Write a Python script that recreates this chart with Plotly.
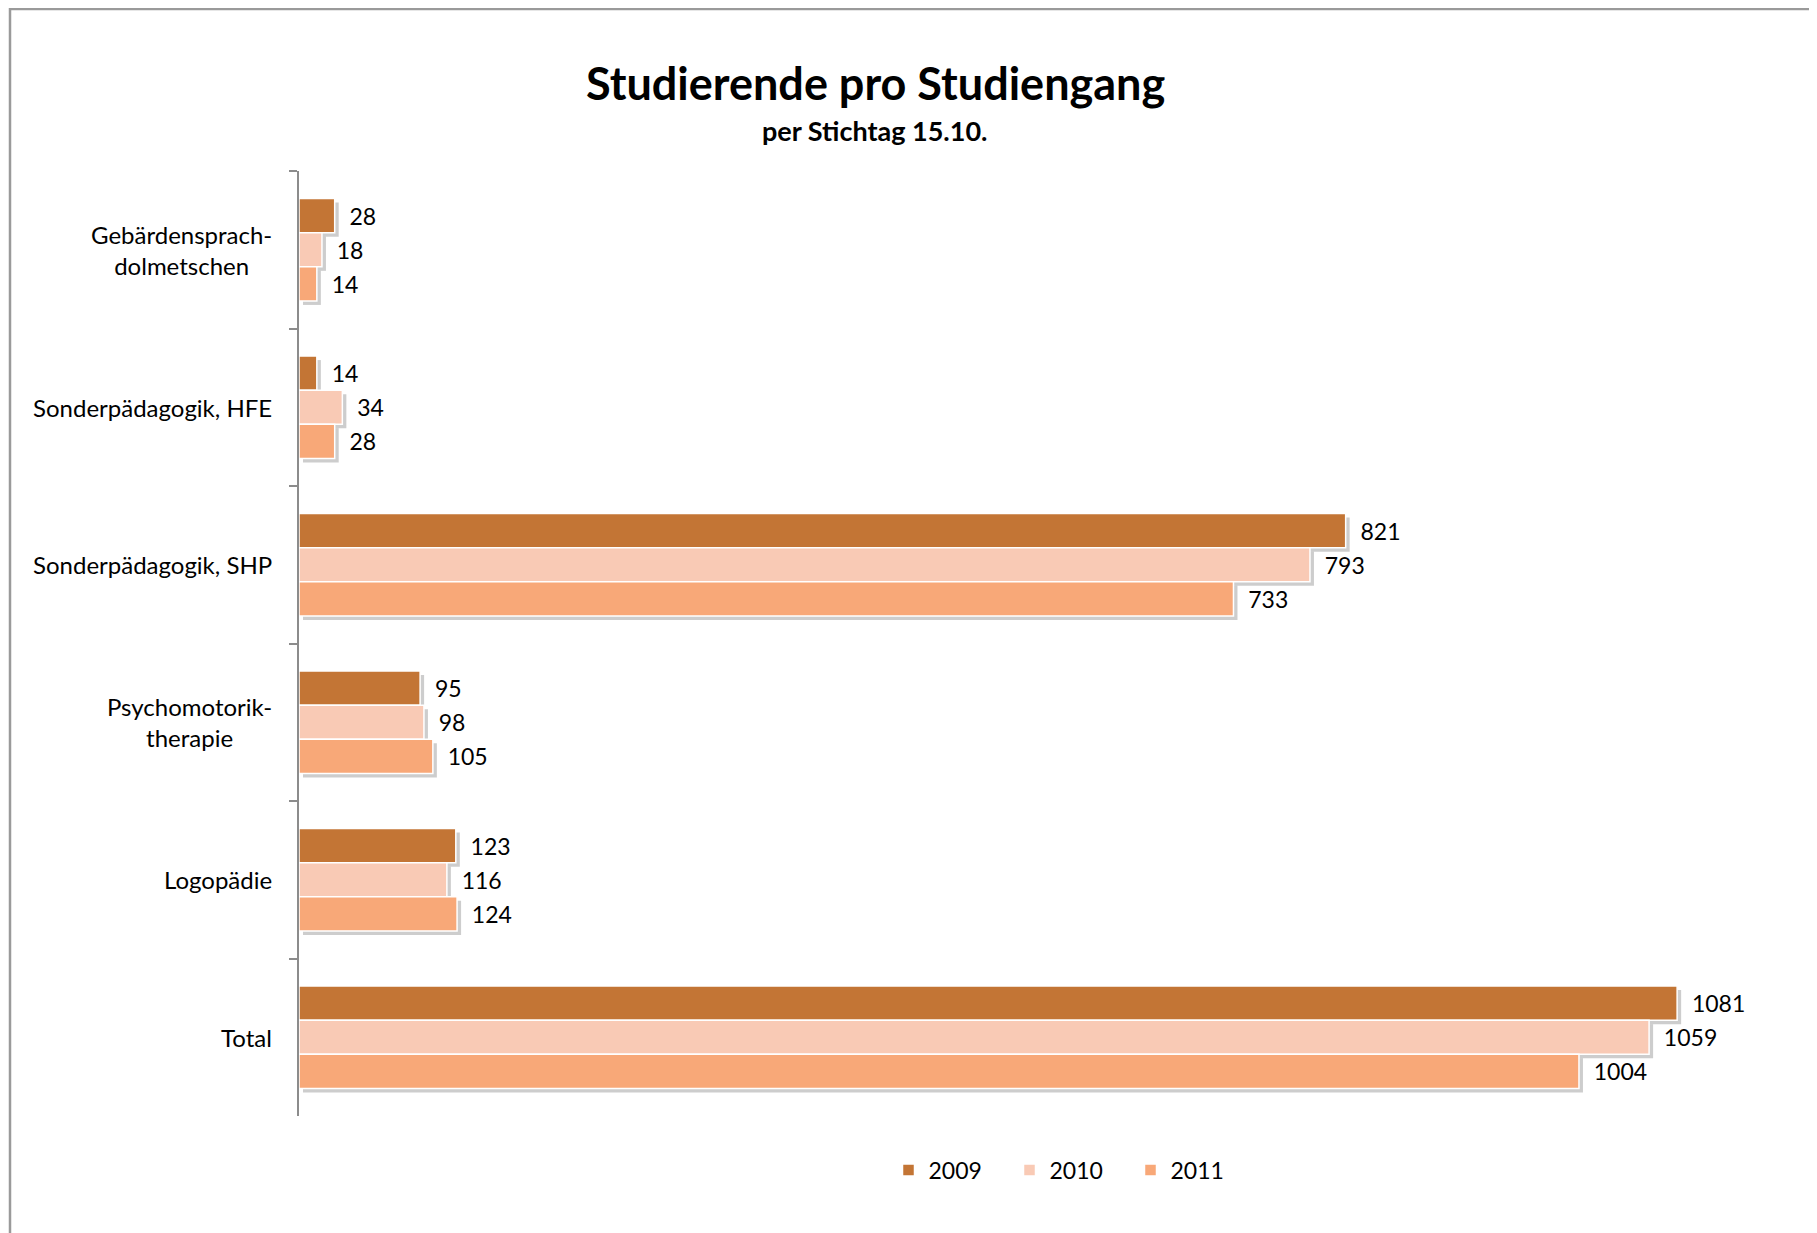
import plotly.graph_objects as go

categories = ["Gebärdensprach-<br>dolmetschen", "Sonderpädagogik, HFE", "Sonderpädagogik, SHP",
              "Psychomotorik-<br>therapie", "Logopädie", "Total"]
years = ["2009", "2010", "2011"]
values_2009 = [28, 14, 821, 95, 123, 1081]
values_2010 = [18, 34, 793, 98, 116, 1059]
values_2011 = [14, 28, 733, 105, 124, 1004]
series = [values_2009, values_2010, values_2011]
colors = ["#C37535", "#F9CAB5", "#F8A878"]

FONT = "Lato"
OFF = 8  # default page body margin
W_FIG, H_FIG = 1817 - OFF, 1233 - OFF
L, T = 299 - OFF, 171 - OFF
SH = 4  # shadow offset px
PW, PH = 1465, 949  # plot area incl. shadow offset
XMAX = 1146

def px_x(p):
    return (p - OFF - L) / PW

def px_y(p):
    return 1 - (p - OFF - T) / PH

fig = go.Figure()

# shadows (subplot xy, drawn first)
for vals in series:
    fig.add_trace(go.Bar(
        y=categories, x=vals, orientation="h",
        marker=dict(color="rgba(90,90,90,0.30)", line=dict(width=0)),
        showlegend=False, hoverinfo="skip", xaxis="x", yaxis="y",
    ))

# real bars
for yr, vals, col in zip(years, series, colors):
    fig.add_trace(go.Bar(
        y=categories, x=vals, orientation="h", name=yr,
        marker=dict(color=col, line=dict(color="white", width=1.5)),
        text=[str(v) for v in vals],
        texttemplate="\u00a0\u00a0%{text}",
        textposition="outside", cliponaxis=False,
        textfont=dict(family=FONT, size=23, color="black"),
        xaxis="x2", yaxis="y2",
    ))

ex = SH / PW
ey = SH / PH
yr_range = [len(categories) - 0.5, -0.5]

annotations = [
    dict(text="<b>Studierende pro Studiengang</b>", xref="paper", yref="paper",
         x=px_x(875), y=px_y(83), xanchor="center", yanchor="middle", showarrow=False,
         font=dict(family=FONT, size=45, color="black")),
    dict(text="<b>per Stichtag 15.10.</b>", xref="paper", yref="paper",
         x=px_x(875), y=px_y(130), xanchor="center", yanchor="middle", showarrow=False,
         font=dict(family=FONT, size=27, color="black")),
]
for c in categories:
    annotations.append(dict(text=c, xref="paper", yref="y2", x=px_x(274), y=c,
                            xanchor="right", yanchor="middle", align="center", showarrow=False,
                            font=dict(family=FONT, size=24, color="black")))

fig.update_layout(
    width=W_FIG, height=H_FIG,
    margin=dict(l=L, r=W_FIG - L - PW, t=T, b=H_FIG - T - PH, pad=0),
    paper_bgcolor="white", plot_bgcolor="rgba(0,0,0,0)",
    barmode="group", bargap=0.35, bargroupgap=0,
    xaxis=dict(domain=[ex, 1], range=[0, XMAX], visible=False, fixedrange=True),
    yaxis=dict(domain=[0, 1 - ey], range=yr_range, visible=False, type="category",
               anchor="x"),
    xaxis2=dict(domain=[0, 1 - ex], range=[0, XMAX], visible=False, anchor="y2"),
    yaxis2=dict(domain=[ey, 1], range=yr_range, type="category", anchor="x2",
                showticklabels=False, ticks="outside", tickson="boundaries", ticklen=8,
                tickcolor="#8c8c8c", tickwidth=1.5, showline=True, linecolor="#8c8c8c",
                linewidth=1.5, showgrid=False, zeroline=False),
    legend=dict(orientation="h", x=px_x(1070), y=px_y(1170), xanchor="center", yanchor="middle",
                font=dict(family=FONT, size=23, color="black"), traceorder="normal",
                itemwidth=30, entrywidth=76, entrywidthmode="pixels",
                bgcolor="rgba(0,0,0,0)"),
    annotations=annotations,
    shapes=[dict(type="rect", xref="paper", yref="paper",
                 x0=px_x(10), x1=px_x(1840), y0=px_y(1260), y1=px_y(9),
                 line=dict(color="#9a9a9a", width=2.5), layer="below")],
    showlegend=True,
)

fig.write_html("out.html")
